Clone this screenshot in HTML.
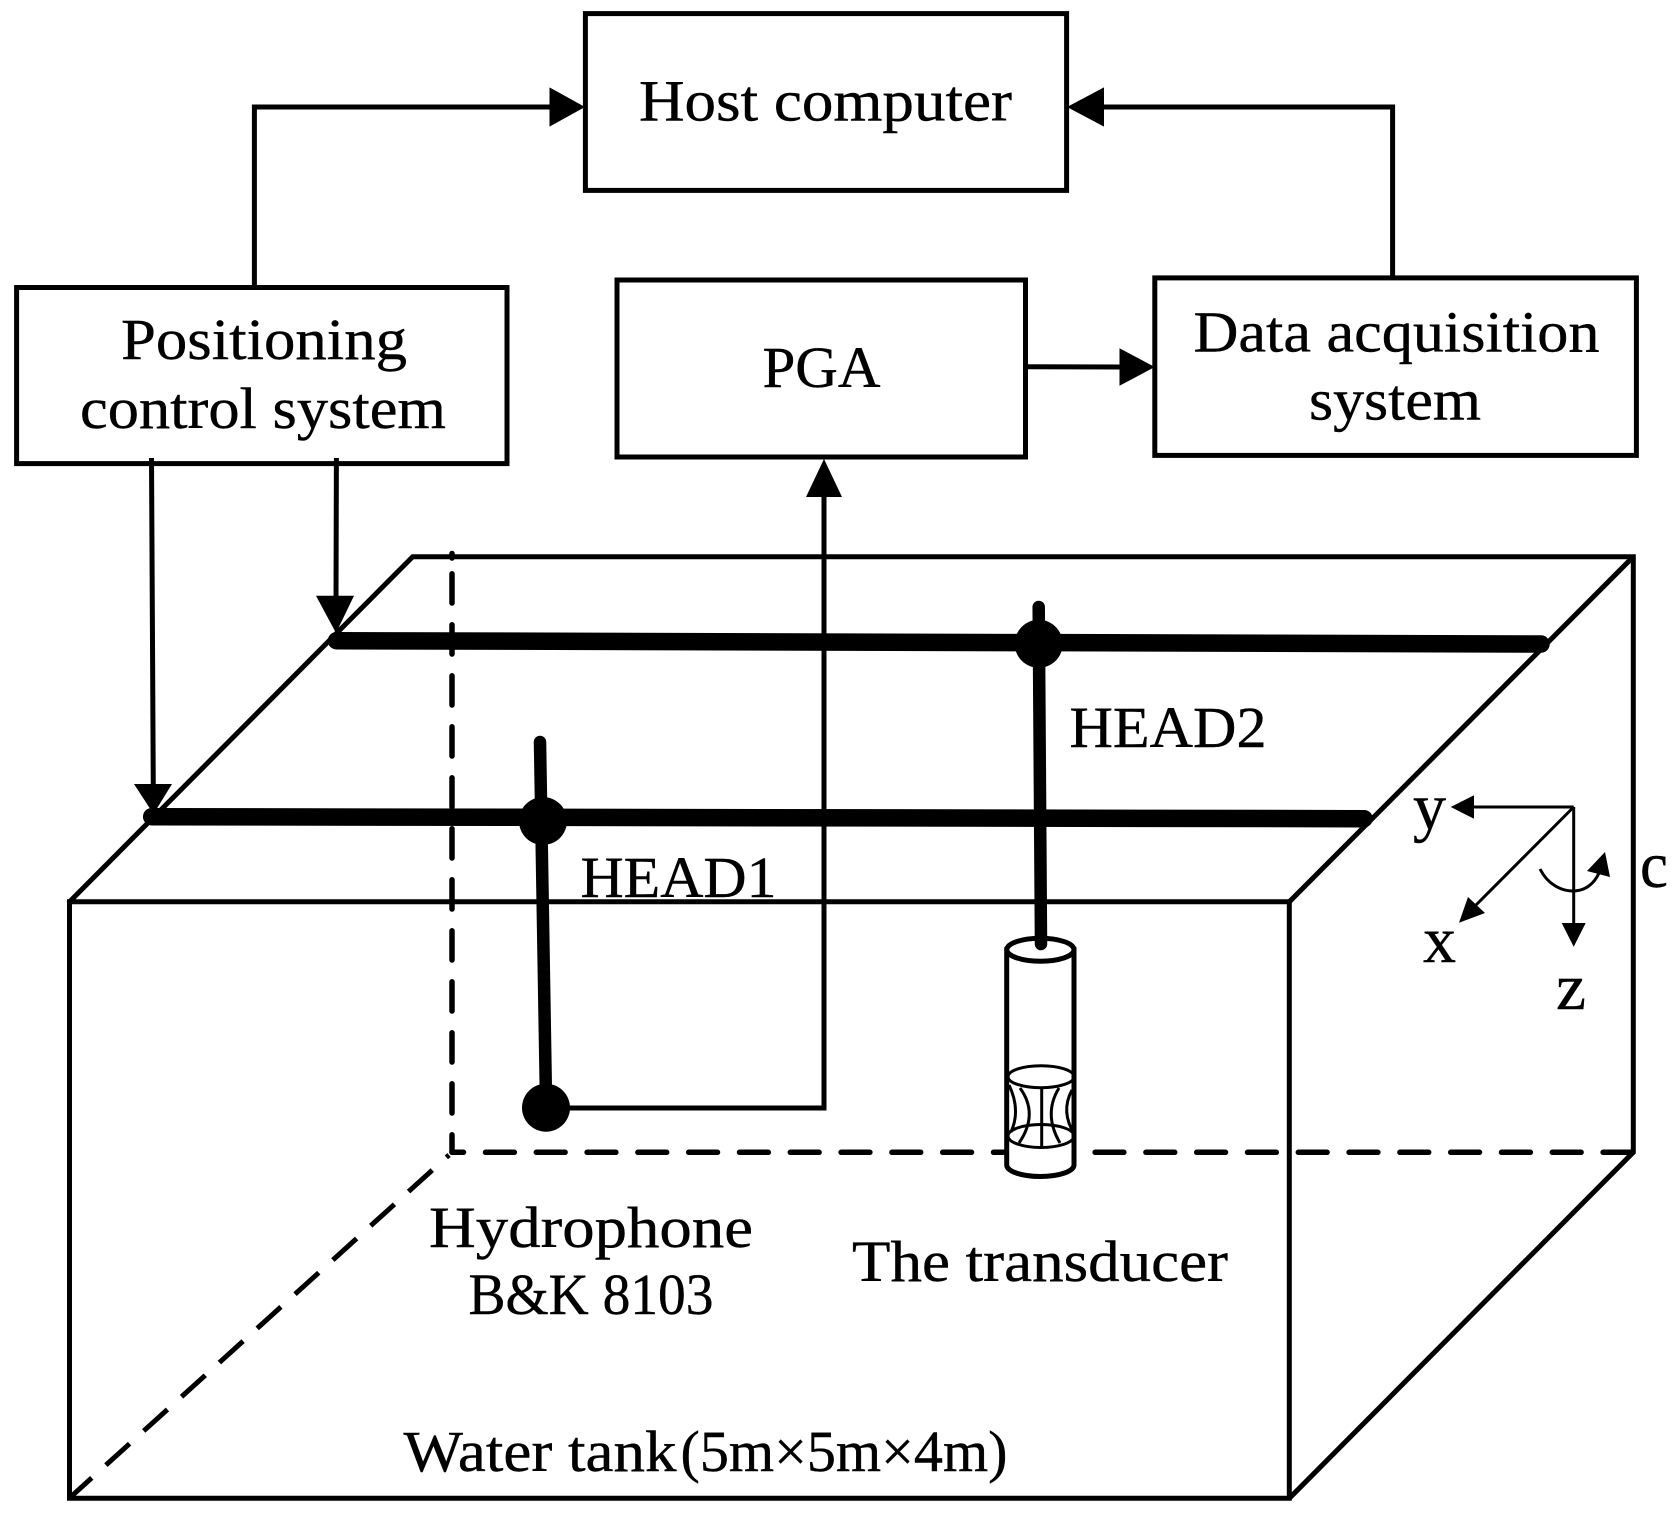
<!DOCTYPE html>
<html lang="en">
<head>
<meta charset="utf-8">
<title>Water tank measurement setup</title>
<style>
html,body{margin:0;padding:0;background:#fff}
svg{display:block}
text{font-family:"Liberation Serif",serif;font-size:58px;fill:#000;stroke:#000;stroke-width:.4px}
text.a{font-size:66px}
</style>
</head>
<body>
<svg width="1678" height="1514" viewBox="0 0 1678 1514" xmlns="http://www.w3.org/2000/svg">
<rect width="1678" height="1514" fill="#fff"/>

<!-- tank -->
<g fill="none" stroke="#000" stroke-width="5" stroke-linejoin="miter">
  <path d="M69.5 1498.3V901.8H1289.3V1498.3H69.5Z"/>
  <path d="M69.5 901.8L412.7 556.7H1633.3V1152.3L1289.3 1498.3"/>
  <path d="M1289.3 901.8L1633.3 556.7"/>
</g>
<g fill="none" stroke="#000" stroke-width="5.5" stroke-linecap="round">
  <path d="M452 1152V562" stroke-dasharray="29.2 21.8" stroke-dashoffset="12"/>
  <path d="M452 553.5V558"/>
  <path d="M452 1152.3H1633" stroke-dasharray="28.8 22" stroke-dashoffset="17.3"/>
</g>
<path d="M69.5 1498L449 1155" fill="none" stroke="#000" stroke-width="5" stroke-dasharray="32 19" stroke-dashoffset="2"/>

<!-- boxes -->
<g fill="none" stroke="#000" stroke-width="5">
  <rect x="585.4" y="13.6" width="481.2" height="176.8"/>
  <rect x="16.6" y="287.5" width="490.4" height="176.1"/>
  <rect x="617" y="280" width="408.5" height="177"/>
  <rect x="1154.8" y="277.9" width="481.6" height="177.5"/>
</g>

<!-- connectors -->
<g fill="none" stroke="#000" stroke-width="5">
  <path d="M254.4 287V107H552"/>
  <path d="M1392.6 278V107H1100"/>
  <path d="M1026 366.8L1122 367"/>
  <path d="M824 495V1108H555"/>
  <path d="M151.5 458L153.3 790"/>
  <path d="M336.4 458L336 600"/>
</g>
<g fill="#000">
  <path d="M585 107L549.5 87.4V126.6Z"/>
  <path d="M1067 107L1104 87.4V126.6Z"/>
  <path d="M1154.7 367L1119.5 348.2V385.8Z"/>
  <path d="M824 459L806 497H842Z"/>
  <path d="M153.5 814L134 784H172Z"/>
  <path d="M336 633L316 595.7H354Z"/>
</g>

<!-- heads -->
<g fill="none" stroke="#000" stroke-linecap="round">
  <path d="M336.5 640.7L1541 644" stroke-width="17.5"/>
  <path d="M151.7 816.7L1364 818.7" stroke-width="17.5"/>
  <path d="M540 742L546 1100" stroke-width="12.5"/>
</g>
<circle cx="543" cy="821" r="24" fill="#000"/>
<circle cx="546" cy="1107.7" r="24" fill="#000"/>
<circle cx="1038.7" cy="643.8" r="24" fill="#000"/>

<!-- transducer -->
<path d="M1006.7 949.7V1165A33.6 11.5 0 0 0 1074 1165V949.7Z" fill="#fff" stroke="#000" stroke-width="5"/>
<ellipse cx="1040.4" cy="949.7" rx="33.6" ry="11.5" fill="#fff" stroke="#000" stroke-width="5"/>
<path d="M1038.7 607L1041 944" fill="none" stroke="#000" stroke-width="12.5" stroke-linecap="round"/>
<g fill="none" stroke="#000" stroke-width="3">
  <ellipse cx="1041" cy="1076.7" rx="33" ry="11"/>
  <ellipse cx="1041" cy="1136" rx="33" ry="11.5"/>
  <path d="M1041.7 1088V1148"/>
  <path d="M1009 1085Q1021 1110 1011 1132"/>
  <path d="M1020 1088Q1039 1114 1019 1143"/>
  <path d="M1059 1088Q1043 1114 1060 1143"/>
  <path d="M1072 1090Q1060 1112 1075 1135"/>
</g>

<!-- axes -->
<g fill="none" stroke="#000" stroke-width="3">
  <path d="M1573.7 807H1472"/>
  <path d="M1573.7 807V925"/>
  <path d="M1573.7 807L1474 907"/>
  <path d="M1540 869C1548 885 1562 891 1573 891C1585 891 1594 884 1599 873"/>
</g>
<g fill="#000">
  <path d="M1450.7 807L1474 795.3V818.7Z"/>
  <path d="M1573.7 946.7L1561.7 923H1585.7Z"/>
  <path d="M1459 922.7L1468 897L1485 913Z"/>
  <path d="M1605 852L1587 871L1610 877Z"/>
</g>

<!-- labels -->
<text x="639" y="120.6" textLength="373" lengthAdjust="spacingAndGlyphs">Host computer</text>
<text x="121" y="359" textLength="286" lengthAdjust="spacingAndGlyphs">Positioning</text>
<text x="80" y="427.8" textLength="366" lengthAdjust="spacingAndGlyphs">control system</text>
<text x="762.5" y="386.8" textLength="118" lengthAdjust="spacingAndGlyphs">PGA</text>
<text x="1193.5" y="351.7" textLength="406" lengthAdjust="spacingAndGlyphs">Data acquisition</text>
<text x="1309" y="419.6" textLength="172" lengthAdjust="spacingAndGlyphs">system</text>
<text x="1069.5" y="747" textLength="197" lengthAdjust="spacingAndGlyphs">HEAD2</text>
<text x="580.5" y="897" textLength="196" lengthAdjust="spacingAndGlyphs">HEAD1</text>
<text x="429" y="1247" textLength="324" lengthAdjust="spacingAndGlyphs">Hydrophone</text>
<text x="468.5" y="1314" textLength="245" lengthAdjust="spacingAndGlyphs">B&amp;K 8103</text>
<text x="852" y="1281" textLength="376" lengthAdjust="spacingAndGlyphs">The transducer</text>
<text x="403.5" y="1471" textLength="273" lengthAdjust="spacingAndGlyphs">Water tank</text>
<text x="680.5" y="1471" textLength="327" lengthAdjust="spacingAndGlyphs">(5m×5m×4m)</text>
<text class="a" x="1413" y="829" textLength="33" lengthAdjust="spacingAndGlyphs">y</text>
<text class="a" x="1423" y="962" textLength="33" lengthAdjust="spacingAndGlyphs">x</text>
<text class="a" x="1556" y="1009" textLength="30" lengthAdjust="spacingAndGlyphs">z</text>
<text class="a" x="1640" y="887" textLength="28" lengthAdjust="spacingAndGlyphs">c</text>
</svg>
</body>
</html>
